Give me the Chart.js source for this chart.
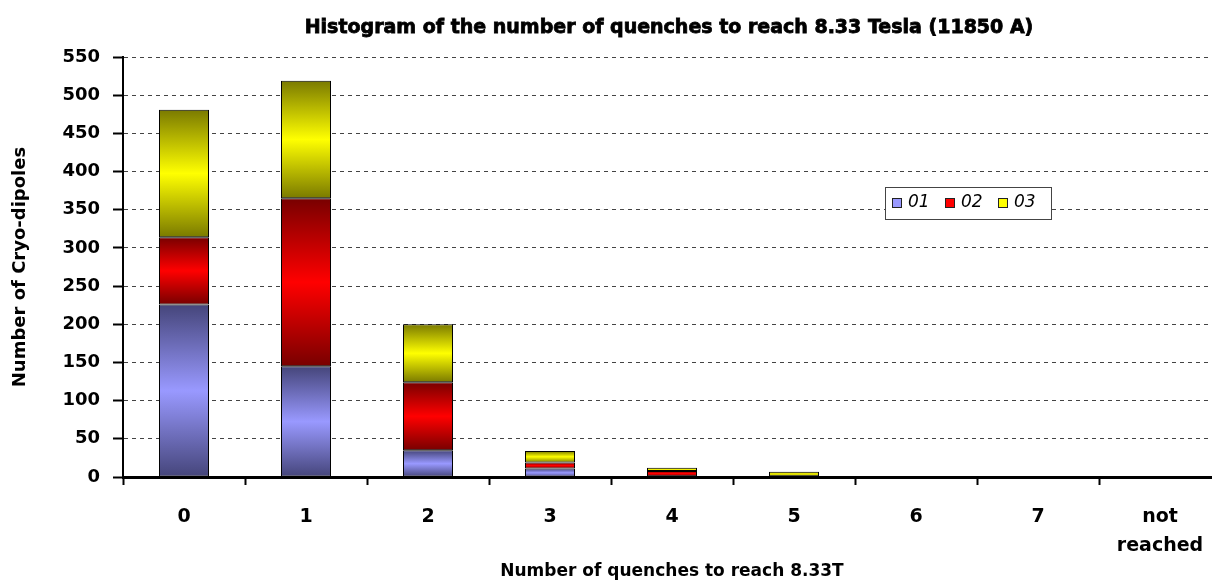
<!DOCTYPE html>
<html>
<head>
<meta charset="utf-8">
<script src="https://cdn.jsdelivr.net/npm/chart.js@4.4.0/dist/chart.umd.min.js"></script>
<style>
    html, body { margin: 0; padding: 0; background: #fff; overflow: hidden; }
    #wrap { width: 1230px; height: 582px; }
</style>
</head>
<body>
<div id="wrap"><canvas id="quenchChart" width="1230" height="582"></canvas></div>
<script>
// categories (number of quenches)
const categories = ['0', '1', '2', '3', '4', '5', '6', '7', ['not', 'reached']];

// cryo-dipoles per category, by series
const series01 = [226, 145, 35, 11, 1, 0, 0, 0, 0];
const series02 = [88, 220, 89, 8, 7, 1, 0, 0, 0];
const series03 = [167, 154, 76, 15, 4, 6, 0, 0, 0];

const seriesNames = ['01', '02', '03'];
const yTicks = { min: 0, max: 550, step: 50 };

const chartTitle = 'Histogram of the number of quenches to reach 8.33 Tesla (11850 A)';
const xTitle = 'Number of quenches to reach 8.33T';
const yTitle = 'Number of Cryo-dipoles';

const FONT = "'DejaVu Sans', sans-serif";

const palette = [
    { light: '#9999ff', dark: '#45457a' },
    { light: '#ff0000', dark: '#780000' },
    { light: '#ffff00', dark: '#7a7a00' }
];

// vertical gradient per stacked segment: dark edges, bright middle
function segmentFill(idx) {
    const c = palette[idx];
    return function (ctx) {
        const chart = ctx.chart;
        const y = chart.scales && chart.scales.y;
        if (ctx.type !== 'data' || !chart.chartArea || !y) return c.light;
        const i = ctx.dataIndex;
        let base = 0;
        for (let k = 0; k < ctx.datasetIndex; k++) base += chart.data.datasets[k].data[i];
        const top = base + chart.data.datasets[ctx.datasetIndex].data[i];
        const y0 = y.getPixelForValue(base);
        const y1 = y.getPixelForValue(top);
        if (!isFinite(y0) || !isFinite(y1) || Math.abs(y0 - y1) < 1) return c.light;
        const g = chart.ctx.createLinearGradient(0, y1, 0, y0);
        g.addColorStop(0, c.dark);
        g.addColorStop(0.5, c.light);
        g.addColorStop(1, c.dark);
        return g;
    };
}

// title + boxed legend drawn over the plot
const overlay = {
    id: 'overlay',
    afterDraw(chart) {
        const ctx = chart.ctx;
        ctx.save();
        ctx.fillStyle = '#000';
        ctx.strokeStyle = '#000';
        ctx.lineWidth = 0.8;
        ctx.font = 'bold 19px ' + FONT;
        ctx.textAlign = 'center';
        ctx.textBaseline = 'middle';
        ctx.fillText(chartTitle, 669, 28);
        ctx.strokeText(chartTitle, 669, 28);

        // legend box
        const bx = 885, by = 187, bw = 166, bh = 32;
        ctx.fillStyle = '#fff';
        ctx.fillRect(bx, by, bw, bh);
        ctx.strokeStyle = '#444';
        ctx.lineWidth = 1;
        ctx.strokeRect(bx + 0.5, by + 0.5, bw, bh);
        const markerX = [892, 945, 998];
        ctx.font = 'italic 17px ' + FONT;
        ctx.textAlign = 'left';
        seriesNames.forEach((name, k) => {
            ctx.fillStyle = palette[k].light;
            ctx.fillRect(markerX[k], 198, 9, 9);
            ctx.strokeStyle = '#222';
            ctx.strokeRect(markerX[k] + 0.5, 198.5, 9, 9);
            ctx.fillStyle = '#000';
            ctx.fillText(name, markerX[k] + 16, 203);
        });
        ctx.restore();
    }
};

const datasets = [series01, series02, series03].map((data, k) => ({
    label: seriesNames[k],
    data: data,
    backgroundColor: segmentFill(k),
    borderColor: '#000',
    borderWidth: 1,
    borderSkipped: false,
    categoryPercentage: 1.0,
    barPercentage: 0.41
}));

new Chart(document.getElementById('quenchChart'), {
    type: 'bar',
    data: { labels: categories, datasets: datasets },
    plugins: [overlay],
    options: {
        responsive: false,
        animation: false,
        layout: { padding: { top: 57, left: 0, right: 9, bottom: 0 } },
        plugins: {
            legend: { display: false },
            title: { display: false },
            tooltip: { enabled: false }
        },
        scales: {
            x: {
                stacked: true,
                afterFit(scale) { scale.height = 105; },
                grid: {
                    offset: true,
                    drawOnChartArea: false,
                    drawTicks: true,
                    tickLength: 8,
                    tickColor: '#000',
                    tickWidth: 2
                },
                border: { display: true, color: '#000', width: 3 },
                ticks: {
                    color: '#000',
                    padding: 18,
                    maxRotation: 0,
                    autoSkip: false,
                    font: { family: FONT, size: 19, weight: 'bold', lineHeight: 1.5 }
                },
                title: {
                    display: true,
                    text: xTitle,
                    color: '#000',
                    padding: { top: 0, bottom: 0 },
                    font: { family: FONT, size: 17, weight: 'bold', lineHeight: 1.2 }
                }
            },
            y: {
                stacked: true,
                min: yTicks.min,
                max: yTicks.max,
                afterFit(scale) { scale.width = 123; },
                grid: {
                    color: '#444',
                    lineWidth: 1,
                    tickLength: 10,
                    tickColor: '#000',
                    tickWidth: 2
                },
                border: { display: true, color: '#000', width: 2, dash: [4, 4] },
                ticks: {
                    stepSize: yTicks.step,
                    color: '#000',
                    padding: 13,
                    font: { family: FONT, size: 18, weight: 'bold' }
                },
                title: {
                    display: true,
                    text: yTitle,
                    color: '#000',
                    padding: { top: 10, bottom: 0 },
                    font: { family: FONT, size: 18, weight: 'bold', lineHeight: 1.2 }
                }
            }
        }
    }
});
</script>
</body>
</html>
